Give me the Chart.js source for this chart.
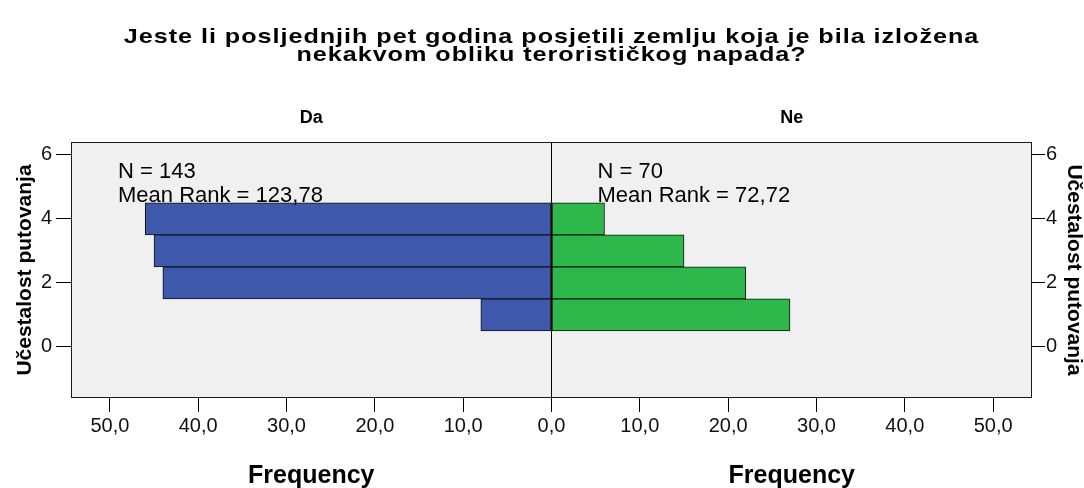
<!DOCTYPE html>
<html>
<head>
<meta charset="utf-8">
<script src="https://cdn.jsdelivr.net/npm/chart.js@4.4.0/dist/chart.umd.min.js"></script>
<style>
  html, body { margin: 0; padding: 0; background: #fff; }
  #wrap { width: 1084px; height: 488px; }
</style>
</head>
<body>
<div id="wrap"><canvas id="myChart" width="1084" height="488"></canvas></div>
<script>
// Data
var categories = [1, 2, 3, 4];              // Učestalost putovanja
var daValues = [8, 44, 45, 46];             // group "Da"
var neValues = [27, 22, 15, 6];             // group "Ne"
var xTicks = [-50, -40, -30, -20, -10, 0, 10, 20, 30, 40, 50];
var yTicks = [0, 2, 4, 6];
var groupNames = ['Da', 'Ne'];
var groupN = [143, 70];
var groupMeanRank = ['123,78', '72,72'];

var titleLines = ['Jeste li posljednjih pet godina posjetili zemlju koja je bila izložena',
                  'nekakvom obliku terorističkog napada?'];
var yTitle = 'Učestalost putovanja';
var xTitle = 'Frequency';

var FONT = '"Liberation Sans", Arial, sans-serif';

// left side goes negative so both groups share one x scale
var daData = categories.map(function (c, i) { return { x: -daValues[i], y: c }; });
var neData = categories.map(function (c, i) { return { x: neValues[i], y: c }; });

function fmtTick(v) {
    return Math.abs(v).toFixed(1).replace('.', ',');
}

var textPlugin = {
    id: 'texts',
    beforeDraw: function (chart) {
        var ctx = chart.ctx, a = chart.chartArea;
        ctx.save();
        ctx.fillStyle = '#f0f0f0';
        ctx.fillRect(a.left, a.top, a.right - a.left, a.bottom - a.top);
        ctx.restore();
    },
    afterDraw: function (chart) {
        var ctx = chart.ctx, a = chart.chartArea;
        var xs = chart.scales.x;
        var mid = xs.getPixelForValue(0);
        var leftMid = (a.left + mid) / 2, rightMid = (mid + a.right) / 2;
        var cy = (a.top + a.bottom) / 2;

        ctx.save();
        // plot frame
        ctx.strokeStyle = '#1a1a1a';
        ctx.lineWidth = 1;
        ctx.strokeRect(Math.round(a.left) + 0.5, Math.round(a.top) + 0.5,
                       Math.round(a.right - a.left) - 1, Math.round(a.bottom - a.top) - 1);

        ctx.fillStyle = '#000';
        ctx.textAlign = 'center';
        ctx.textBaseline = 'alphabetic';

        // main title, a bit wide like the original export
        ctx.save();
        ctx.translate((a.left + a.right) / 2, 0);
        ctx.scale(1.2, 1);
        ctx.font = 'bold 21px ' + FONT;
        ctx.letterSpacing = '0.8px';
        ctx.fillText(titleLines[0], 0, 43);
        ctx.fillText(titleLines[1], 0, 61);
        ctx.restore();

        // panel titles
        ctx.font = 'bold 18px ' + FONT;
        ctx.fillText(groupNames[0], leftMid, 123);
        ctx.fillText(groupNames[1], rightMid, 123);

        // x titles
        ctx.font = 'bold 25px ' + FONT;
        ctx.fillText(xTitle, leftMid, 483);
        ctx.fillText(xTitle, rightMid, 483);

        // N and mean rank
        ctx.font = '22px ' + FONT;
        ctx.textAlign = 'left';
        ctx.fillText('N = ' + groupN[0], a.left + 47, 178);
        ctx.fillText('Mean Rank = ' + groupMeanRank[0], a.left + 47, 202);
        ctx.fillText('N = ' + groupN[1], mid + 46, 178);
        ctx.fillText('Mean Rank = ' + groupMeanRank[1], mid + 46, 202);

        // y titles
        ctx.font = 'bold 21px ' + FONT;
        ctx.textAlign = 'center';
        ctx.textBaseline = 'middle';
        ctx.save();
        ctx.translate(25, cy);
        ctx.rotate(-Math.PI / 2);
        ctx.fillText(yTitle, 0, 0);
        ctx.restore();
        ctx.save();
        ctx.translate(1074, cy);
        ctx.rotate(Math.PI / 2);
        ctx.fillText(yTitle, 0, 0);
        ctx.restore();

        ctx.restore();
    }
};

function yAxis(pos, tickLen, pad, width) {
    return {
        type: 'linear',
        position: pos,
        min: -1.6,
        max: 6.4,
        offset: false,
        afterBuildTicks: function (scale) {
            scale.ticks = yTicks.map(function (v) { return { value: v }; });
        },
        ticks: {
            font: { family: FONT, size: 20 },
            color: '#111',
            padding: pad
        },
        grid: {
            offset: false,
            drawOnChartArea: false,
            tickLength: tickLen,
            tickColor: '#000'
        },
        border: { display: false },
        afterFit: function (scale) { scale.width = width; }
    };
}

var ctx = document.getElementById('myChart').getContext('2d');
var chart = new Chart(ctx, {
    type: 'bar',
    data: {
        datasets: [{
            label: groupNames[0],
            data: daData,
            backgroundColor: '#3e58ac',
            borderColor: '#111',
            borderWidth: 1,
            borderSkipped: false,
            grouped: false,
            barPercentage: 1,
            categoryPercentage: 1
        }, {
            label: groupNames[1],
            data: neData,
            backgroundColor: '#2eb84b',
            borderColor: '#111',
            borderWidth: 1,
            borderSkipped: false,
            grouped: false,
            barPercentage: 1,
            categoryPercentage: 1
        }]
    },
    options: {
        indexAxis: 'y',
        responsive: false,
        animation: false,
        devicePixelRatio: 1,
        layout: { padding: { top: 142, left: 0, right: 0, bottom: 0 } },
        plugins: {
            legend: { display: false },
            title: { display: false },
            tooltip: { enabled: false }
        },
        scales: {
            x: {
                type: 'linear',
                min: -54.4,
                max: 54.4,
                afterBuildTicks: function (scale) {
                    scale.ticks = xTicks.map(function (v) { return { value: v }; });
                },
                ticks: {
                    font: { family: FONT, size: 20 },
                    color: '#111',
                    padding: 2,
                    maxRotation: 0,
                    callback: function (v) { return fmtTick(v); }
                },
                grid: {
                    color: function (c) { return c.tick && c.tick.value === 0 ? '#000' : 'rgba(0,0,0,0)'; },
                    tickColor: '#000',
                    tickLength: 14
                },
                border: { display: false },
                afterFit: function (scale) { scale.height = 90; }
            },
            y: yAxis('left', 15, 4, 71),
            y2: yAxis('right', 13, 1, 52)
        }
    },
    plugins: [textPlugin]
});
</script>
</body>
</html>
